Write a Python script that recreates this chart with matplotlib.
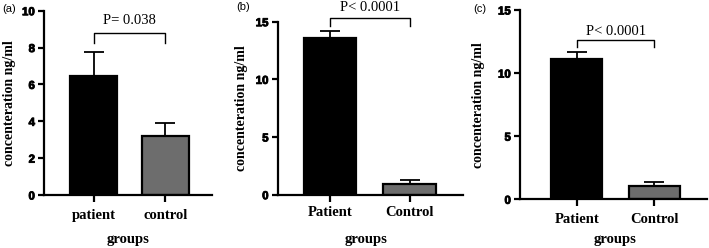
import numpy as np
import matplotlib
matplotlib.use('Agg')
import matplotlib.pyplot as plt
from matplotlib import font_manager
import matplotlib.patheffects as pe

# panel data (mean, upper SD)
groups_a = ['patient', 'control']
means_a = [6.44, 3.18]
errs_a = [1.34, 0.72]

groups_b = ['Patient', 'Control']
means_b = [13.55, 0.93]
errs_b = [0.62, 0.37]

groups_c = ['Patient', 'Control']
means_c = [11.09, 1.08]
errs_c = [0.62, 0.27]

pvals = ['P= 0.038', 'P< 0.0001', 'P< 0.0001']
panel_tags = ['(a)', '(b)', '(c)']

W, H = 709, 248
fig = plt.figure(figsize=(W / 100, H / 100), dpi=100)


def has_bold(family):
    path = font_manager.findfont(font_manager.FontProperties(family=family, weight='bold'),
                                 fallback_to_default=False)
    name = path.lower().split('/')[-1]
    return 'bold' in name or 'bd' in name


# Times-like bold if installed, otherwise regular Times-like with a thin stroke
serif = ['Liberation Serif', 'DejaVu Serif']
serif_fx = [] if has_bold('Liberation Serif') else [pe.withStroke(linewidth=0.7, foreground='black')]
sans = ['Liberation Sans', 'DejaVu Sans'] if has_bold('Liberation Sans') else ['DejaVu Sans']
# tick numbers in the original are very heavy
sans_fx = [pe.withStroke(linewidth=0.6, foreground='black')]

bar_colors = ['black', '#6d6d6d']


def bold_serif(t, size):
    t.set_fontfamily(serif)
    t.set_fontweight('bold')
    t.set_fontsize(size)
    t.set_path_effects(serif_fx)


def px_axes(left, right, top, bottom):
    # axes rectangle given in pixel coordinates of the output image
    return fig.add_axes([left / W, 1 - bottom / H, (right - left) / W, (bottom - top) / H])


def panel(ax, names, means, errs, ymax, step, xlim, br_y, br_leg, ptxt, ptxt_y, tick_pad):
    x = np.arange(len(names))
    ax.bar(x, means, width=0.66, color=bar_colors, edgecolor='black', linewidth=1.6, zorder=2)
    ax.errorbar(x, means, yerr=[np.zeros(len(errs)), errs], fmt='none', ecolor='black',
                elinewidth=1.3, capsize=7.5, capthick=1.3, zorder=1)
    ax.set_xlim(*xlim)
    ax.set_ylim(0, ymax)
    yt = np.arange(0, ymax + 0.01, step)
    ax.set_yticks(yt)
    ax.set_yticklabels([str(int(v)) for v in yt], fontfamily=sans, fontweight='bold', fontsize=8.3)
    for lab in ax.get_yticklabels():
        lab.set_path_effects(sans_fx)
    ax.set_xticks(x)
    ax.set_xticklabels(names)
    for lab in ax.get_xticklabels():
        bold_serif(lab, 10.5)
    for s in ['top', 'right']:
        ax.spines[s].set_visible(False)
    for s in ['left', 'bottom']:
        ax.spines[s].set_linewidth(1.6)
    ax.tick_params(axis='y', length=4.5, width=1.6, pad=2)
    ax.tick_params(axis='x', length=5, width=1.6, pad=tick_pad)
    yl = ax.set_ylabel('concenteration ng/ml')
    bold_serif(yl, 10)
    # significance bracket
    ax.plot([x[0], x[0], x[1], x[1]], [br_y - br_leg, br_y, br_y, br_y - br_leg],
            color='black', linewidth=1.0, clip_on=False)
    ax.text((x[0] + x[1]) / 2, ptxt_y, ptxt, ha='center', va='center',
            fontfamily=serif, fontsize=10.5, clip_on=False)


ax_a = px_axes(44, 212, 10.7, 195)
panel(ax_a, groups_a, means_a, errs_a, 10, 2, (-0.69, 1.65), 8.77, 0.54, pvals[0], 9.45, 5)

ax_b = px_axes(277.7, 462.7, 21.7, 194.7)
panel(ax_b, groups_b, means_b, errs_b, 15, 5, (-0.66, 1.67), 15.29, 0.67, pvals[1], 16.2, 3)

ax_c = px_axes(520, 707, 10, 199.3)
panel(ax_c, groups_c, means_c, errs_c, 15, 5, (-0.735, 1.68), 12.62, 0.53, pvals[2], 13.28, 5)

# y labels: anchor at right edge of rotated text
ax_a.yaxis.set_label_coords(-(44 - 15.5) / 168, 0.5)
ax_b.yaxis.set_label_coords(-(277.7 - 248) / 185, 0.5)
ax_c.yaxis.set_label_coords(-(520 - 485) / 187, 0.5)

# x axis titles
for xc in [128, 366, 615.5]:
    t = fig.text(xc / W, 1 - 239.5 / H, 'groups', ha='center', va='center')
    bold_serif(t, 10.5)

fig.text(2 / W, 1 - 9 / H, panel_tags[0], fontfamily=sans, fontsize=8, va='center', ha='left')
fig.text(236 / W, 1 - 7 / H, panel_tags[1], fontfamily=sans, fontsize=8, va='center', ha='left')
fig.text(473 / W, 1 - 9.3 / H, panel_tags[2], fontfamily=sans, fontsize=8, va='center', ha='left')

fig.savefig('out.png', dpi=100)
